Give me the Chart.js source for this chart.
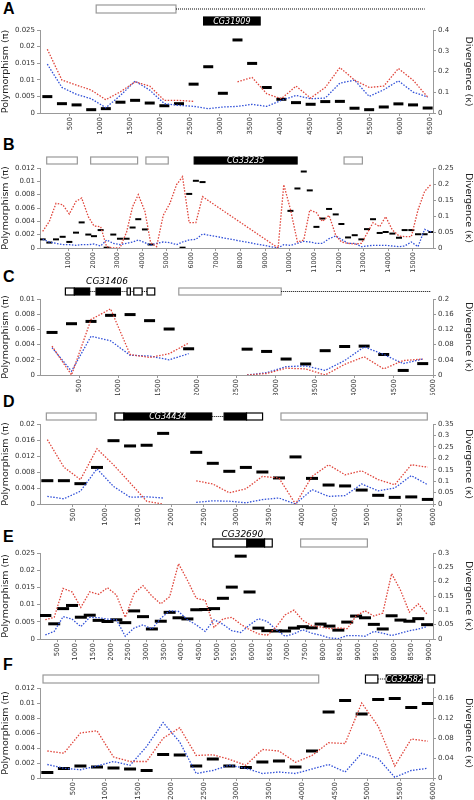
<!DOCTYPE html>
<html>
<head>
<meta charset="utf-8">
<script src="https://cdn.jsdelivr.net/npm/chart.js@4"></script>
<style>
body{margin:0;background:#fff;width:474px;height:800px;position:relative;overflow:hidden;font-family:Arial,"Liberation Sans",sans-serif}
canvas{position:absolute;left:0}
.lab{position:absolute;left:3px;font-weight:bold;font-size:16px}
</style>
</head>
<body>
<div class="lab" style="top:0px">A</div>
<div class="lab" style="top:136px">B</div>
<div class="lab" style="top:268px">C</div>
<div class="lab" style="top:393px">D</div>
<div class="lab" style="top:528px">E</div>
<div class="lab" style="top:656px">F</div>
<canvas id="cA" width="474" height="135" style="top:0px"></canvas>
<canvas id="cB" width="474" height="141" style="top:135px"></canvas>
<canvas id="cC" width="474" height="125" style="top:270px"></canvas>
<canvas id="cD" width="474" height="135" style="top:395px"></canvas>
<canvas id="cE" width="474" height="130" style="top:530px"></canvas>
<canvas id="cF" width="474" height="140" style="top:660px"></canvas>
<script>
'use strict';
// ---- panel A ----
let posA = [122,366,610,854,1098,1342,1586,1830,2074,2318,2562,2806,3050,3294,3538,3782,4026,4270,4514,4758,5002,5246,5490,5734,5978,6222,6466];
let kA = [.079,.045,.039,.016,.021,.052,.061,.048,.035,.045,.139,.223,.095,.352,.239,.123,.066,.05,.042,.055,.056,.023,.016,.029,.044,.039,.024];
let redA = [.0192,.0099,.0084,.0069,.004,.0064,.0094,.0081,.0038,.0038,.0035,null,null,.0094,.0107,.0058,.0043,.0081,.0045,.0077,.0137,.0099,.0077,.0081,.0134,.0099,.0048];
let blueA = [.0147,.0077,.0056,.0043,.0016,.0053,.0096,.0069,.0028,.0023,.002,.0013,.0018,.002,.0026,.002,.0038,.0053,.0043,.0045,.009,.0099,.005,.007,.0097,.0063,.0048];
let geneA = [['grey',937,2268,0],['dots',2268,6417,0],['black',2729,3672,1,'CG31909']];

// ---- panel B ----
let posB = [-41,230,500,771,1042,1313,1543,1813,2043,2314,2558,2828,3099,3369,3613,3843,4114,4344,4587,4858,5129,5399,5643,5913,6184,6455,
  9526,9756,10027,10311,10568,10812,11083,11326,11597,11867,12097,12368,12639,12909,13139,13383,13654,13897,14168,14438,14668,14939,15210,15480,15751];
let kB = [.027,.017,.027,.035,.019,.048,.08,.042,.037,.056,.001,.042,.029,.029,.064,.09,.058,.011,null,null,null,null,.001,.169,.21,.206,
  null,null,.116,.186,.239,.18,.066,.092,.122,.105,.075,.033,.04,.027,.059,.09,.047,.05,.045,.032,.056,.056,.043,.043,.05];
let redB = [.0025,.004,.0067,.0065,.0051,.007,.0075,.0047,.0033,.0032,.0002,0,0,.0024,.0062,.008,.0055,.0008,.0002,.0049,.0067,.0095,.0107,.0038,.0038,.0077,
  0,.0095,.0058,.0009,.0012,.0057,.0053,.004,.0049,.0019,.0009,.0007,.0006,.0007,.0022,.0038,.0032,.0047,.0027,.0018,.0017,.0017,.0057,.0085,.0096];
let blueB = [.0013,.0009,.0007,.0005,.0005,.0004,.0005,.0005,.0006,.0003,.0012,.0007,.0005,.0007,.0009,.0012,.0008,.0004,.0007,.0009,.0008,.0005,.0009,.0012,.0013,.0021,
  0,.0005,.0004,.0007,.001,.0009,.0007,.0007,.0014,.0018,.0013,.0007,.0007,.0002,.0003,.0004,.0004,.0004,.0003,.0002,.0003,.0009,.0002,.0028,.0024];
let geneB = [['grey',122,1367,0],['grey',1908,3816,0],['grey',4154,5061,0],['grey',12206,12950,0],['black',6116,10298,0,'CG33235']];

// ---- panel C ----
let posC = [153,401,649,898,1146,1394,1643,1891,2139,2387,2635,2883,3131,3380,3628,3876,4124,4373,4621,4869];
let kC = [.112,.135,.141,.157,.159,.143,.121,.069,null,null,.068,.062,.042,.029,.064,.075,.076,.054,.012,.03];
let redC = [.0038,0,.0073,.0087,.0027,.0023,.0028,.0042,null,null,0,.0002,.0009,.0008,0,.0014,.0024,.0008,.0019,.0021];
let blueC = [.0036,.0005,.0051,.0045,.0026,.0025,.002,.0028,null,null,0,.0003,.0011,.0012,.0006,.0019,.0037,.0027,.0015,.0021];
let geneC = [['open',323,437,0],['black',437,632,0],['dots',632,713,0],['black',713,1023,0],['dots',1023,1108,0],['open',1108,1150,0],
  ['dots',1150,1193,0],['open',1193,1299,0],['dots',1299,1362,0],['open',1362,1460,0],['grey',1766,3069,0],['dots',3069,4970,0],['text',853,853,0,'CG31406']];

// ---- panel D ----
let posD = [112,365,617,870,1122,1375,1628,1880,2133,2385,2638,2890,3143,3395,3648,3901,4153,4406,4658,4911,5163,5416,5668,5921];
let kD = [.102,.102,.089,.160,.277,.254,.257,.309,null,.226,.178,.143,.160,.140,.114,.206,.112,.083,.079,.061,.038,.029,.031,.020];
let redD = [.0161,.0092,.0061,.0138,.0098,.0053,.0007,0,null,.0058,.005,.0028,.0038,.0069,.0065,0,.0069,.0098,.0073,.0083,.0061,.0048,.0098,.0092];
let blueD = [.0019,.0013,.0032,.0088,.0044,.0017,.0018,.0015,null,.0004,.0008,.0007,.0003,.0011,.0015,0,.0036,.0019,.0021,.005,.0033,.004,.0071,.0048];
let geneD = [['grey',97,857,0],['open',1143,1281,0],['black',1281,2622,0,'CG34434'],['dots',2622,2811,0],['black',2811,3153,0],['open',3153,3398,0],['grey',3679,5913,0]];

// ---- panel E ----
let posE = [151,402,653,904,1155,1406,1657,1908,2159,2410,2661,2912,3163,3414,3665,3916,4167,4418,4669,4920,5171,5422,5673,5924,6175,6426,6677,6928,7179,7430,7681,7932,8183,8434,8685,8936,9187,9438,9689,9940,10191,10442,10693,10944];
let kE = [.082,.053,.106,.117,.076,.083,.065,.061,.067,.057,.098,.078,.035,.062,.093,.074,.070,.102,.103,.106,.142,.181,.289,.164,.038,.029,.028,.028,.038,.043,.039,.052,.045,.031,.059,.080,.074,.051,.035,.081,.066,.062,.071,.050];
let redE = [.0056,.0063,.0147,.0137,.0092,.0137,.013,.0149,.0128,.0063,.0132,.0155,.0125,.0102,.0123,.0219,.0171,.0118,.0113,.0034,.0058,.0063,.0043,.0027,.0015,.0011,.0035,.007,.0084,.0054,.0039,.0035,.003,.0032,.003,.0067,.0082,.0067,.0075,.019,.0142,.0078,.0102,.0072];
let blueE = [.0012,.0022,.0065,.0058,.0036,.0063,.0062,.0058,.0056,.0008,.0032,.0041,.0029,.006,.0082,.008,.0056,.0041,.0022,.0056,.0043,.0024,.0019,.0041,.0059,.0051,.0027,.0008,.0015,.0027,.0017,.0011,.0003,.0001,.001,.001,.0008,.0022,.0017,.001,.0017,.0024,.0029,.0036];
let ticksE = ['500','1000','1500','2000','2500','3000','3500','4000','4500','5000','5500','6000','6500','7000','7500','8000','8500','9000','9500','8000','8500','9000'];
let geneE = [['open',4887,5849,0],['black',5849,6349,0],['open',6349,6566,0],['grey',7368,9255,0],['text',5720,5720,0,'CG32690']];

// ---- panel F ----
let posF = [112,365,617,870,1122,1375,1628,1880,2133,2385,2638,2890,3143,3395,3648,3901,4153,4406,4658,4911,5163,5416,5668,5921];
let kF = [.011,.019,.024,.022,.020,.018,.015,.047,.046,.024,.038,.024,.021,.032,.034,.022,.054,.132,.155,.128,.157,.159,.141,.149];
let redF = [.0036,.0033,.006,.0063,.0028,.0022,.0022,.0053,.0067,.003,.0031,.0025,.0017,.0038,.0036,.0021,.003,.0047,.0046,.01,.0069,.0016,.0052,.0049];
let blueF = [.0018,.0013,.0011,.0016,.0022,.0017,.0042,.0074,.0048,.0006,.001,.0017,.0013,.0006,.0008,.0006,.0012,.0018,.0008,.0033,.0026,.0001,.001,.0013];
let geneF = [['grey',46,4255,0],['open',4969,5158,0],['dots',5158,5286,0],['black',5286,5837,0,'CG32582'],['dots',5837,5923,0],['open',5923,6026,0]];

function pts(xs, ys) {
  return xs.map((x, i) => ({x: x, y: ys[i]}));
}
function fmt(v) {
  return String(parseFloat(v.toFixed(4)));
}

let genePlugin = {
  id: 'genes',
  afterDraw(chart) {
    let o = chart.options.plugins.genes;
    let ctx = chart.ctx, xs = chart.scales.x;
    ctx.save();
    o.list.forEach(g => {
      let x1 = xs.getPixelForValue(g[1]), x2 = xs.getPixelForValue(g[2]);
      let y = o.rows[g[3]], h = o.h;
      if (g[0] === 'dots') {
        ctx.strokeStyle = '#000'; ctx.lineWidth = 1; ctx.setLineDash([1, 1]);
        ctx.beginPath(); ctx.moveTo(x1, y + h / 2); ctx.lineTo(x2, y + h / 2); ctx.stroke();
        ctx.setLineDash([]);
      } else if (g[0] === 'text') {
        ctx.fillStyle = '#000'; ctx.font = 'italic 9px "DejaVu Sans"'; ctx.textAlign = 'center';
        ctx.fillText(g[4], x1, o.textY);
      } else {
        ctx.fillStyle = g[0] === 'black' ? '#000' : '#fff';
        ctx.fillRect(x1, y, x2 - x1, h);
        ctx.strokeStyle = g[0] === 'grey' ? '#999' : '#000';
        ctx.lineWidth = 1.2;
        ctx.strokeRect(x1, y, x2 - x1, h);
        if (g[4]) {
          ctx.fillStyle = '#fff'; ctx.font = 'italic 8px "DejaVu Sans"'; ctx.textAlign = 'center'; ctx.textBaseline = 'middle';
          ctx.fillText(g[4], (x1 + x2) / 2, y + h / 2 + 0.5);
          ctx.textBaseline = 'alphabetic';
        }
      }
    });
    ctx.restore();
  }
};

function makePanel(id, p) {
  let tickFont = {family: '"DejaVu Sans"', size: 7};
  let xFont = {family: '"DejaVu Sans"', size: p.xfs || 7};
  let titleFont = {family: '"DejaVu Sans"', size: 9.5};
  new Chart(document.getElementById(id), {
    type: 'line',
    data: {
      datasets: [
        {data: pts(p.pos, p.red), borderColor: '#e0443a', borderWidth: 1.3, borderDash: [1.5, 1.5], pointRadius: 0, yAxisID: 'y', spanGaps: false},
        {data: pts(p.pos, p.blue), borderColor: '#2f4fd8', borderWidth: 1.3, borderDash: [1.5, 1.5], pointRadius: 0, yAxisID: 'y', spanGaps: false},
        {data: pts(p.pos, p.k), showLine: false, pointStyle: 'line', pointRadius: p.dash, borderColor: '#000', pointBorderWidth: p.thick, borderWidth: p.thick, yAxisID: 'y2'}
      ]
    },
    options: {
      responsive: false, animation: false, devicePixelRatio: 1,
      layout: {padding: {top: p.top, bottom: 0, left: 0, right: 0}},
      plugins: {legend: {display: false}, tooltip: {enabled: false}, genes: {list: p.genes, rows: p.rows, h: p.h, textY: p.textY}},
      scales: {
        x: {
          type: 'linear', min: p.xmin, max: p.xmax,
          grid: {drawOnChartArea: false, color: '#999', tickLength: 3},
          border: {color: '#999'},
          afterFit: s => { s.height = p.xh; },
          afterBuildTicks: s => {
            let t = [];
            for (let v = p.xstep; v <= p.xmax; v += p.xstep) t.push({value: v});
            s.ticks = t;
          },
          ticks: {autoSkip: false, minRotation: 90, maxRotation: 90, font: xFont, color: '#333', padding: 1,
            callback: p.xlab || (v => String(v))}
        },
        y: {
          position: 'left', min: 0, max: p.ymax,
          grid: {drawOnChartArea: false, color: '#999', tickLength: 3},
          border: {color: '#999'},
          afterFit: s => { s.width = 40; },
          ticks: {stepSize: p.ystep, font: tickFont, color: '#333', padding: 2, callback: fmt},
          title: {display: true, text: 'Polymorphism (\u03c0)', font: titleFont, color: '#222', padding: 0}
        },
        y2: {
          position: 'right', min: 0, max: p.kmax,
          grid: {drawOnChartArea: false, color: '#999', tickLength: 3},
          border: {color: '#999'},
          afterFit: s => { s.width = 41; },
          ticks: {stepSize: p.kstep, font: tickFont, color: '#333', padding: 2, callback: fmt},
          title: {display: true, text: 'Divergence (\u03ba)', font: titleFont, color: '#222', padding: 0}
        }
      }
    },
    plugins: [genePlugin]
  });
}

makePanel('cA', {pos: posA, red: redA, blue: blueA, k: kA, genes: geneA, rows: [5, 17], h: 8, textY: 0,
  top: 30, xh: 22, xmin: 0, xmax: 6555, xstep: 500, ymax: .025, ystep: .005, kmax: .4, kstep: .05, dash: 5, thick: 3});
makePanel('cB', {pos: posB, red: redB, blue: blueB, k: kB, genes: geneB, rows: [22], h: 7, textY: 0,
  top: 33, xh: 28, xfs: 6.5, xmin: -150, xmax: 15820, xstep: 1000, ymax: .012, ystep: .002, kmax: .25, kstep: .05, dash: 3, thick: 2});
makePanel('cC', {pos: posC, red: redC, blue: blueC, k: kC, genes: geneC, rows: [18], h: 7, textY: 14,
  top: 29, xh: 20, xmin: 0, xmax: 5000, xstep: 500, ymax: .01, ystep: .002, kmax: .2, kstep: .04, dash: 5.5, thick: 3});
makePanel('cD', {pos: posD, red: redD, blue: blueD, k: kD, genes: geneD, rows: [18], h: 7, textY: 0,
  top: 29, xh: 26, xmin: 0, xmax: 6000, xstep: 500, ymax: .02, ystep: .004, kmax: .35, kstep: .05, dash: 6, thick: 3});
makePanel('cE', {pos: posE, red: redE, blue: blueE, k: kE, genes: geneE, rows: [9], h: 8, textY: 7,
  top: 23, xh: 21, xmin: 0, xmax: 11110, xstep: 500, ymax: .025, ystep: .005, kmax: .3, kstep: .05, dash: 6, thick: 3,
  xlab: v => ticksE[v / 500 - 1] || ''});
makePanel('cF', {pos: posF, red: redF, blue: blueF, k: kF, genes: geneF, rows: [15], h: 8, textY: 0,
  top: 28, xh: 22, xmin: 0, xmax: 6000, xstep: 500, ymax: .012, ystep: .002, kmax: .18, kstep: .02, dash: 6, thick: 3});
</script>
</body>
</html>
